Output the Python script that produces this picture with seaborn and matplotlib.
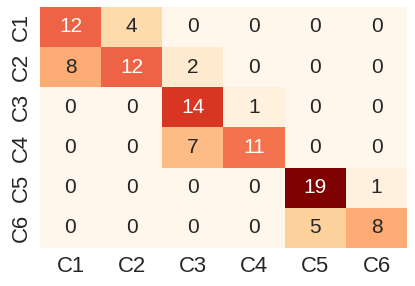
import numpy as np
import pandas as pd
import seaborn as sns
from matplotlib import pyplot as plt

labels = ["C1", "C2", "C3", "C4", "C5", "C6"]
row_c1 = [12, 4, 0, 0, 0, 0]
row_c2 = [8, 12, 2, 0, 0, 0]
row_c3 = [0, 0, 14, 1, 0, 0]
row_c4 = [0, 0, 7, 11, 0, 0]
row_c5 = [0, 0, 0, 0, 19, 1]
row_c6 = [0, 0, 0, 0, 5, 8]

cm = pd.DataFrame([row_c1, row_c2, row_c3, row_c4, row_c5, row_c6],
                  index=labels, columns=labels)

sns.set(font_scale=1.45)
plt.rcParams["font.family"] = ["Liberation Sans", "DejaVu Sans"]
fig = plt.figure(figsize=(4.15, 2.86), dpi=100)
ax = sns.heatmap(cm, annot=True, fmt="d", cmap="OrRd", cbar=False,
                 annot_kws={"size": 15})
ax.tick_params(axis="y", rotation=90)
ax.tick_params(axis="both", length=0, pad=6)
plt.subplots_adjust(left=0.096, right=0.981, top=0.976, bottom=0.133)
plt.savefig("out.png", dpi=100)
